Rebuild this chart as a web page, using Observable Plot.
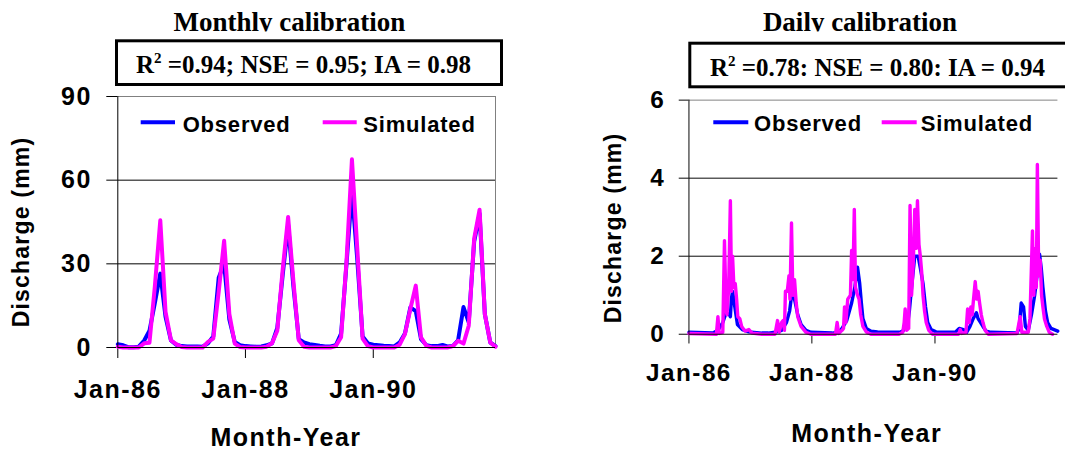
<!DOCTYPE html>
<html>
<head>
<meta charset="utf-8">
<script src="https://cdn.jsdelivr.net/npm/d3@7"></script>
<script src="https://cdn.jsdelivr.net/npm/@observablehq/plot@0.6"></script>
<style>
  html, body { margin: 0; padding: 0; background: #fff; width: 1065px; height: 452px; overflow: hidden; }
  #wrap { position: relative; width: 1065px; height: 452px; overflow: hidden; }
  #left, #right { position: absolute; top: 0; }
  #left { left: 0; }
  #right { left: 540px; }
  #overlay { position: absolute; left: 0; top: 0; pointer-events: none; }
  .serif { font-family: "Liberation Serif", "Times New Roman", serif; font-weight: bold; }
  .sans { font-family: "Liberation Sans", Arial, sans-serif; font-weight: bold; }
</style>
</head>
<body>
<div id="wrap">
  <div id="left"></div>
  <div id="right"></div>
  <svg id="overlay" width="1065" height="452">
    <defs><clipPath id="clipTitle"><rect x="0" y="0" width="1065" height="31.5"></rect></clipPath></defs>
    <g clip-path="url(#clipTitle)" class="serif" font-size="27">
      <text x="289.5" y="30.5" text-anchor="middle">Monthly calibration</text>
      <text x="860" y="30.7" text-anchor="middle">Daily calibration</text>
    </g>
    <rect x="116.5" y="40.8" width="385" height="43.7" fill="none" stroke="#000" stroke-width="3"></rect>
    <rect x="689.8" y="43.2" width="400" height="43.6" fill="none" stroke="#000" stroke-width="3"></rect>
    <text class="serif" font-size="25" x="136" y="73.3">R<tspan font-size="15" dy="-10">2</tspan><tspan dy="10"> =0.94; NSE = 0.95; IA = 0.98</tspan></text>
    <text class="serif" font-size="25" x="710" y="76">R<tspan font-size="15" dy="-10">2</tspan><tspan dy="10"> =0.78: NSE = 0.80: IA = 0.94</tspan></text>
    <line x1="140.7" x2="175" y1="122.3" y2="122.3" stroke="#0000ff" stroke-width="4"></line>
    <text class="sans" font-size="22" letter-spacing="0.8" x="182.7" y="131.7">Observed</text>
    <line x1="322.7" x2="356.7" y1="122.3" y2="122.3" stroke="#ff00ff" stroke-width="4"></line>
    <text class="sans" font-size="22" letter-spacing="0.8" x="363.3" y="131.7">Simulated</text>
    <line x1="713.3" x2="748.3" y1="122.3" y2="122.3" stroke="#0000ff" stroke-width="4"></line>
    <text class="sans" font-size="22" letter-spacing="0.8" x="754" y="130.7">Observed</text>
    <line x1="881.7" x2="916.7" y1="122.3" y2="122.3" stroke="#ff00ff" stroke-width="4"></line>
    <text class="sans" font-size="22" letter-spacing="0.8" x="920.7" y="130.7">Simulated</text>
    <text class="sans" font-size="23" letter-spacing="1.2" text-anchor="middle" transform="translate(28.5,232) rotate(-90)">Discharge (mm)</text>
    <text class="sans" font-size="23" letter-spacing="1.2" text-anchor="middle" transform="translate(621,228) rotate(-90)">Discharge (mm)</text>
    <text class="sans" font-size="25" letter-spacing="1.5" text-anchor="middle" x="286" y="446">Month-Year</text>
    <text class="sans" font-size="25" letter-spacing="1.5" text-anchor="middle" x="866.7" y="441.7">Month-Year</text>
  </svg>
</div>
<script>
// ---- Data ----
const monthlyStart = "1986-01-01";
const monthlyObserved = [
  1.2, 0.8, 0.1, 0.1, 0.3, 2.5, 6, 16, 26.5, 11, 2.5, 1.0,
  0.5, 0.4, 0.4, 0.4, 0.3, 1.5, 4, 25, 30, 10, 2, 0.8,
  0.5, 0.4, 0.3, 0.4, 0.8, 1.5, 7, 26, 44, 22, 3, 1.8,
  1.2, 0.9, 0.6, 0.4, 0.4, 0.8, 5, 30, 56, 32, 4, 1.5,
  1.0, 0.8, 0.6, 0.5, 0.4, 1.8, 5, 14.4, 13, 3, 0.8, 0.5,
  0.5, 0.9, 0.4, 0.5, 2.6, 14.5, 9, 38, 48, 12, 1.8, 0.5
];
const monthlySimulated = [
  0.3, 0, 0, 0, 0, 1.5, 1.7, 22, 45.6, 12.8, 2.6, 1.2,
  0.2, 0, 0, 0, 0, 2, 3.2, 20, 38.3, 12, 1.4, 0.2,
  0, 0, 0, 0, 0.3, 1.5, 6, 28, 46.8, 24, 2.6, 0.3,
  0, 0, 0, 0, 0, 0.5, 3.7, 31, 67.5, 36, 3.2, 0.5,
  0, 0, 0, 0, 0, 1, 4.8, 13.8, 22.2, 3.6, 0.6, 0,
  0, 0, 0, 0.5, 2.4, 1.4, 7.8, 39, 49.4, 12, 1.8, 0.3
];

const dailyObservedDates = [
  "1986-01-01","1986-05-24","1986-06-22","1986-07-21","1986-08-10","1986-08-29","1986-09-04","1986-09-10","1986-09-17","1986-09-27",
  "1986-10-16","1986-11-14","1986-12-23","1987-03-10","1987-04-18","1987-05-27","1987-07-05","1987-08-03","1987-08-22","1987-09-06",
  "1987-09-20","1987-10-09","1987-10-29","1987-11-27","1987-12-26","1988-04-30","1988-06-08","1988-06-28","1988-07-26","1988-08-24",
  "1988-09-12","1988-09-28","1988-10-11","1988-10-21","1988-10-30","1988-11-19","1988-12-17","1989-01-25","1989-06-09","1989-06-28",
  "1989-07-08","1989-07-21","1989-08-02","1989-08-15","1989-09-03","1989-09-23","1989-10-06","1989-10-22","1989-11-06","1989-11-19",
  "1989-12-09","1990-01-07","1990-05-02","1990-05-25","1990-06-19","1990-07-08","1990-07-28","1990-08-16","1990-09-04","1990-09-14",
  "1990-09-29","1990-10-13","1990-11-01","1990-11-30","1991-05-03","1991-05-16","1991-05-28","1991-06-11","1991-06-22","1991-07-09",
  "1991-07-28","1991-08-16","1991-08-30","1991-09-14","1991-09-24","1991-10-04","1991-10-19","1991-11-01","1991-11-21","1991-12-31"
];
const dailyObservedValues = [
  0.05, 0.03, 0.1, 0.3, 0.55, 0.5, 0.45, 0.9, 1.1, 0.8,
  0.25, 0.12, 0.06, 0.03, 0.03, 0.05, 0.1, 0.3, 0.6, 1.1,
  0.9, 0.5, 0.25, 0.1, 0.05, 0.03, 0.05, 0.15, 0.35, 0.8,
  1.2, 1.72, 1.3, 0.8, 0.4, 0.15, 0.08, 0.06, 0.05, 0.1,
  0.3, 0.2, 0.6, 1.2, 2.0, 2.0, 1.7, 1.3, 0.7, 0.3,
  0.12, 0.06, 0.05, 0.15, 0.12, 0.05, 0.2, 0.4, 0.55, 0.4,
  0.3, 0.2, 0.08, 0.05, 0.03, 0.15, 0.8, 0.7, 0.2, 0.1,
  0.5, 1.0, 1.5, 2.05, 1.7, 1.2, 0.6, 0.3, 0.15, 0.08
];

const dailySimulatedDates = [
  "1986-01-01","1986-06-13","1986-06-22","1986-06-30","1986-07-21","1986-07-31","1986-08-10","1986-08-15","1986-08-25","1986-09-04",
  "1986-09-11","1986-09-17","1986-09-25","1986-10-03","1986-10-11","1986-10-18","1986-10-30","1986-11-10","1986-11-30","1986-12-23",
  "1987-01-11","1987-03-10","1987-05-27","1987-06-11","1987-06-21","1987-07-05","1987-07-14","1987-07-22","1987-07-28","1987-08-08",
  "1987-08-18","1987-08-24","1987-09-02","1987-09-10","1987-09-20","1987-09-30","1987-10-09","1987-10-29","1987-11-27","1987-12-26",
  "1988-05-20","1988-05-30","1988-06-08","1988-06-28","1988-07-07","1988-07-13","1988-07-21","1988-08-01","1988-08-09","1988-08-17",
  "1988-08-24","1988-09-01","1988-09-09","1988-09-16","1988-09-28","1988-10-07","1988-10-17","1988-10-30","1988-11-19","1988-12-17",
  "1989-06-01","1989-06-24","1989-07-02","1989-07-08","1989-07-17","1989-07-29","1989-08-06","1989-08-15","1989-08-25","1989-09-03",
  "1989-09-11","1989-09-19","1989-09-28","1989-10-06","1989-10-14","1989-10-22","1989-10-31","1989-11-10","1989-11-25","1989-12-18",
  "1990-05-21","1990-05-31","1990-06-09","1990-07-04","1990-07-14","1990-07-24","1990-08-02","1990-08-10","1990-08-18","1990-08-28",
  "1990-09-06","1990-09-14","1990-09-23","1990-10-03","1990-10-13","1990-10-26","1990-11-14","1991-05-03","1991-05-22","1991-06-01",
  "1991-07-09","1991-07-19","1991-07-25","1991-08-03","1991-08-11","1991-08-19","1991-08-26","1991-09-01","1991-09-09","1991-09-18",
  "1991-09-26","1991-10-04","1991-10-13","1991-10-27","1991-11-11","1991-11-30"
];
const dailySimulatedValues = [
  0.02, 0.0, 0.45, 0.02, 0.05, 2.4, 0.6, 0.5, 1.2, 3.42,
  1.1, 2.0, 1.2, 1.3, 0.9, 0.45, 0.4, 0.2, 0.08, 0.12,
  0.03, 0.0, 0.0, 0.35, 0.05, 0.3, 0.35, 0.1, 1.1, 1.1,
  1.5, 0.9, 2.85, 1.0, 1.4, 0.8, 0.45, 0.2, 0.05, 0.0,
  0.0, 0.3, 0.02, 0.1, 0.15, 0.7, 0.3, 0.9, 0.95, 1.0,
  2.15, 1.4, 3.2, 1.2, 1.0, 0.9, 0.5, 0.2, 0.06, 0.0,
  0.0, 0.05, 0.3, 0.65, 0.1, 0.15, 3.3, 1.0, 1.8, 3.2,
  2.2, 3.42, 2.3, 2.0, 1.6, 1.0, 0.6, 0.3, 0.1, 0.0,
  0.0, 0.12, 0.02, 0.05, 0.65, 0.3, 0.7, 0.5, 0.9, 1.35,
  0.9, 1.1, 0.8, 0.5, 0.3, 0.1, 0.0, 0.02, 0.45, 0.05,
  0.05, 0.4, 1.3, 2.65, 1.0, 2.2, 1.2, 4.35, 1.5, 1.9,
  1.0, 0.7, 0.4, 0.2, 0.05, 0.0
];

const tickDates = ["1986-01-01", "1988-01-01", "1990-01-01"];
const tickLabels = ["Jan-86", "Jan-88", "Jan-90"];
const monthlyTicks = [0, 30, 60, 90];
const dailyTicks = [0, 2, 4, 6];

// ---- Build tables ----
const start = new Date(monthlyStart);
const monthlyRows = monthlyObserved.map((v, i) => ({
  date: d3.utcMonth.offset(start, i), obs: v, sim: monthlySimulated[i]
}));
const dailyObs = dailyObservedDates.map((d, i) => ({date: new Date(d), q: dailyObservedValues[i]}));
const dailySim = dailySimulatedDates.map((d, i) => ({date: new Date(d), q: dailySimulatedValues[i]}));
const xTicks = tickDates.map(d => new Date(d));
const fmt = d => tickLabels[xTicks.findIndex(t => +t === +d)] ?? "";
const intFmt = d => String(d);

const baseStyle = {
  fontFamily: "'Liberation Sans', Arial, sans-serif",
  fontSize: "25px",
  fontWeight: "bold",
  letterSpacing: "1.5px",
  color: "#000",
  background: "transparent",
  overflow: "visible"
};

const leftStart = monthlyRows[0].date;
const leftEnd = monthlyRows[monthlyRows.length - 1].date;

const left = Plot.plot({
  width: 530, height: 452,
  marginLeft: 117.3, marginRight: 35, marginTop: 96, marginBottom: 105,
  style: baseStyle,
  x: {type: "utc", domain: [leftStart, leftEnd], ticks: xTicks, tickFormat: fmt, tickSize: 11, tickPadding: 22, label: null},
  y: {domain: [0, 90], ticks: monthlyTicks, tickFormat: intFmt, tickSize: 11, tickPadding: 15, label: null},
  marks: [
    Plot.ruleY([90], {stroke: "#808080", strokeWidth: 1}),
    Plot.ruleX([leftEnd], {stroke: "#808080", strokeWidth: 1}),
    Plot.ruleY([30, 60], {stroke: "#000", strokeWidth: 1}),
    Plot.line(monthlyRows, {x: "date", y: "obs", stroke: "#0000ff", strokeWidth: 4}),
    Plot.line(monthlyRows, {x: "date", y: "sim", stroke: "#ff00ff", strokeWidth: 4}),
    Plot.ruleY([0], {stroke: "#000", strokeWidth: 1}),
    Plot.ruleX([leftStart], {stroke: "#000", strokeWidth: 1})
  ]
});
document.getElementById("left").appendChild(left);

const rightStart = new Date("1986-01-01");
const rightEnd = new Date("1992-01-01");
const right = Plot.plot({
  width: 540, height: 452,
  marginLeft: 152.7, marginRight: 7.8, marginTop: 102.5, marginBottom: 108.7,
  style: baseStyle,
  x: {type: "utc", domain: [rightStart, rightEnd], ticks: xTicks, tickFormat: fmt, tickSize: 10, tickPadding: 20.5, label: null},
  y: {domain: [0, 6], ticks: dailyTicks, tickFormat: intFmt, tickSize: 10, tickPadding: 14.5, label: null},
  marks: [
    Plot.ruleY([6], {stroke: "#808080", strokeWidth: 1}),
    Plot.ruleY([2, 4], {stroke: "#000", strokeWidth: 1}),
    Plot.line(dailyObs, {x: "date", y: "q", stroke: "#0000ff", strokeWidth: 3.5}),
    Plot.line(dailySim, {x: "date", y: "q", stroke: "#ff00ff", strokeWidth: 3.5}),
    Plot.ruleY([0], {stroke: "#000", strokeWidth: 1}),
    Plot.ruleX([rightStart], {stroke: "#000", strokeWidth: 1})
  ]
});
document.getElementById("right").appendChild(right);
</script>
</body>
</html>
